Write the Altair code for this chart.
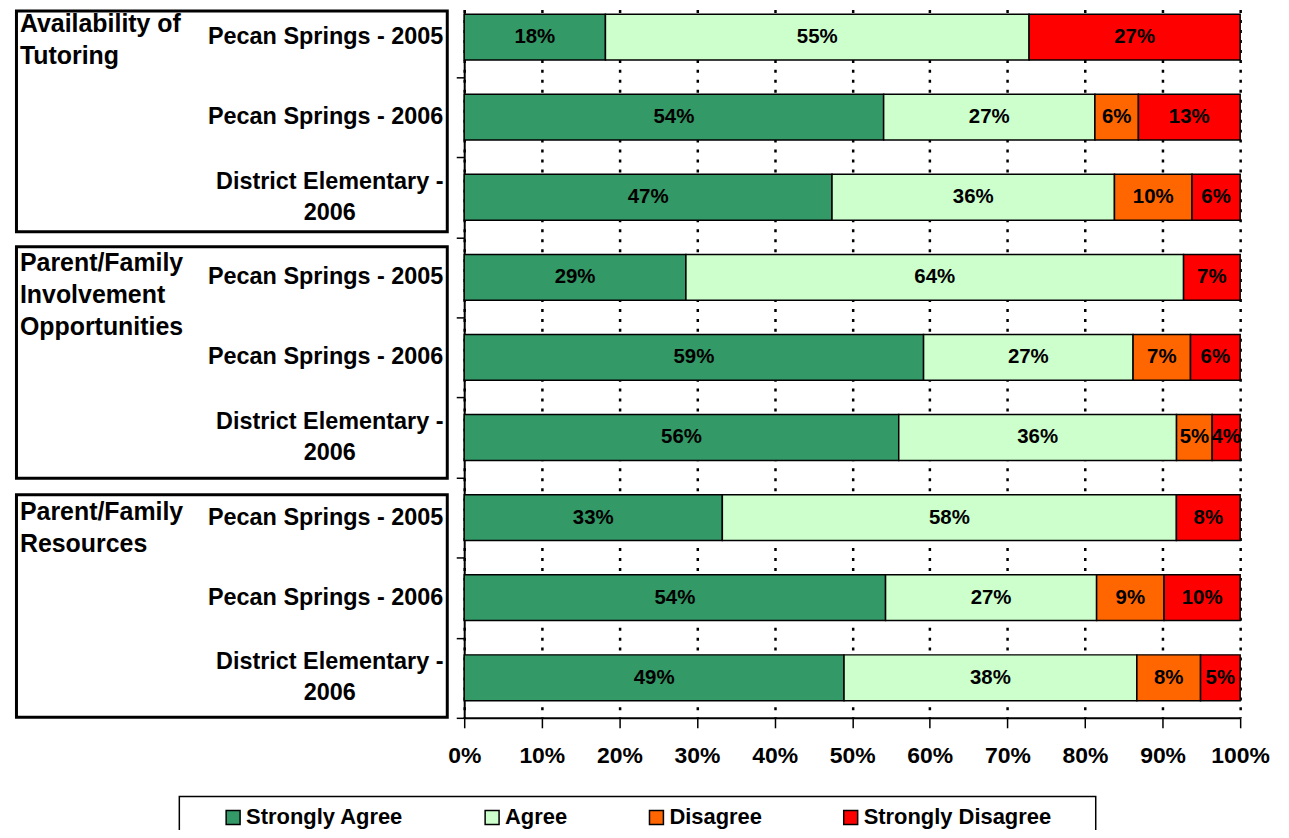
import altair as alt
import pandas as pd

# ---------------- data ----------------
groups = ["Availability of\nTutoring",
          "Parent/Family\nInvolvement\nOpportunities",
          "Parent/Family\nResources"]
schools = ["Pecan Springs - 2005", "Pecan Springs - 2006", "District Elementary -\n2006"]
categories = ["Strongly Agree", "Agree", "Disagree", "Strongly Disagree"]
colors = ["#339966", "#CCFFCC", "#FF6600", "#FF0000"]

strongly_agree    = [18.2, 54.0, 47.4, 28.6, 59.2, 56.0, 33.2, 54.3, 48.9]
agree             = [54.6, 27.2, 36.4, 64.2, 27.0, 35.8, 58.4, 27.2, 37.7]
disagree          = [0.0,  5.6, 10.0,  0.0,  7.4,  4.6,  0.0,  8.7,  8.2]
strongly_disagree = [27.2, 13.1, 6.2,  7.3,  6.4,  3.6,  8.2,  9.8,  5.1]

x_ticks = [0, 10, 20, 30, 40, 50, 60, 70, 80, 90, 100]

# ---------------- tables ----------------
series = [strongly_agree, agree, disagree, strongly_disagree]
n_rows = len(groups) * len(schools)
segs, rows = [], []
for g_i, g in enumerate(groups):
    for s_i, s in enumerate(schools):
        i = g_i * len(schools) + s_i
        pos = n_rows - i - 0.5
        vals = [ser[i] for ser in series]
        total = sum(vals)
        cum = 0.0
        for cat, v in zip(categories, vals):
            if v > 0:
                segs.append(dict(cat=cat, start=cum / total * 100,
                                 end=(cum + v) / total * 100,
                                 label=f"{round(v)}%", pos=pos))
            cum += v
        rows.append(dict(label=s, pos=pos, multi=("\n" in s), group=g, first=(s_i == 0)))

seg_df = pd.DataFrame(segs)
row_df = pd.DataFrame(rows)
single_df = row_df[~row_df["multi"]]
multi_df = row_df[row_df["multi"]]
group_df = pd.DataFrame(dict(group=groups))

# decoration / annotation layout (pixels in plot coordinates)
group_df["ypix"] = [22, 262, 512]
box_df = pd.DataFrame(dict(y0=[1.5, 238, 487], y1=[223, 470.5, 710.5]))
legend_box_df = pd.DataFrame(dict(y0=[790], y1=[840]))

FONT = "Liberation Sans"
W, H = 779, 711
BAND = H / 8.843
HALF = 23 / BAND

xscale = alt.Scale(domain=[0, 100], nice=False)
yscale = alt.Scale(domain=[0, 8.843], nice=False)

xaxis = alt.Axis(values=x_ticks, labelExpr="datum.value + '%'", title=None,
                 labelFont=FONT, labelFontSize=23, labelFontWeight="bold",
                 labelColor="black", labelPadding=17, tickSize=10,
                 tickColor="black", tickWidth=1.5, domainColor="black",
                 domainWidth=2, grid=True, gridColor="black", gridWidth=2.5,
                 gridDash=[3, 7], labelFlush=False, labelOverlap=False)
yaxis = alt.Axis(values=list(range(0, 9)), labels=False, title=None, tickSize=8,
                 tickColor="black", tickWidth=1.5, domainColor="black",
                 domainWidth=2, grid=False)

base = alt.Chart(seg_df)

bars = base.mark_rect(stroke="black", strokeWidth=1.5).transform_calculate(
    y0=f"datum.pos - {HALF}", y1=f"datum.pos + {HALF}"
).encode(
    x=alt.X("start:Q", scale=xscale, axis=xaxis),
    x2="end:Q",
    y=alt.Y("y0:Q", scale=yscale, axis=yaxis),
    y2="y1:Q",
    color=alt.Color("cat:N", scale=alt.Scale(domain=categories, range=colors),
                    sort=categories,
                    legend=alt.Legend(orient="none", legendX=-243, legendY=800,
                                      direction="horizontal", title=None,
                                      symbolType="square", symbolSize=196,
                                      symbolStrokeColor="black", symbolStrokeWidth=1.5,
                                      symbolOpacity=1,
                                      labelFont=FONT, labelFontSize=22,
                                      labelFontWeight="bold", labelColor="black",
                                      labelLimit=400, labelOffset=2,
                                      columnPadding=78, padding=0)),
)

bar_text = base.mark_text(font=FONT, fontSize=20.5, fontWeight="bold",
                          color="black", baseline="middle", align="center").transform_calculate(
    mid="(datum.start + datum.end) / 2"
).encode(
    x=alt.X("mid:Q", scale=xscale, axis=xaxis),
    y=alt.Y("pos:Q", scale=yscale, axis=yaxis),
    text="label:N",
)

row_text1 = alt.Chart(single_df).mark_text(font=FONT, fontSize=23.5, fontWeight="bold",
                                           color="black", align="right",
                                           baseline="middle").encode(
    x=alt.value(-21),
    y=alt.Y("pos:Q", scale=yscale, axis=yaxis),
    text="label:N",
)
row_text2 = alt.Chart(multi_df).mark_text(font=FONT, fontSize=23.5, fontWeight="bold",
                                          color="black", align="center",
                                          baseline="middle", lineBreak="\n",
                                          lineHeight=31, dy=-15.5).encode(
    x=alt.value(-135),
    y=alt.Y("pos:Q", scale=yscale, axis=yaxis),
    text="label:N",
)
group_text = alt.Chart(group_df).mark_text(font=FONT, fontSize=25, fontWeight="bold",
                                           color="black", align="left",
                                           baseline="alphabetic", lineBreak="\n",
                                           lineHeight=32.5).encode(
    x=alt.value(-446),
    y=alt.Y("ypix:Q", scale=None),
    text="group:N",
)

boxes = alt.Chart(box_df).mark_rect(fill="transparent", stroke="black",
                                    strokeWidth=3).encode(
    x=alt.value(-449.5), x2=alt.value(-17),
    y=alt.Y("y0:Q", scale=None), y2="y1:Q",
)
legend_box = alt.Chart(legend_box_df).mark_rect(fill="transparent", stroke="black",
                                                strokeWidth=1.5).encode(
    x=alt.value(-286), x2=alt.value(634),
    y=alt.Y("y0:Q", scale=None), y2="y1:Q",
)

chart = alt.layer(boxes, legend_box, bars, bar_text, row_text1, row_text2, group_text).properties(
    width=W, height=H,
    autosize=alt.AutoSizeParams(type="none"),
    padding={"left": 458, "top": 0, "right": 41, "bottom": 111},
).configure_view(stroke=None)

chart.save("out.html", embed_options={"renderer": "svg", "actions": False})
